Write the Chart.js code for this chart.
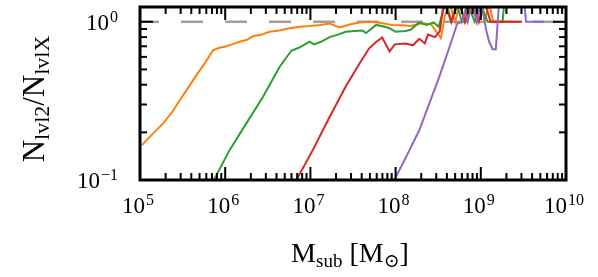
<!DOCTYPE html>
<html>
<head>
<meta charset="utf-8">
<script src="https://cdn.jsdelivr.net/npm/chart.js@4.4.0/dist/chart.umd.min.js"></script>
<style>
  html, body { margin: 0; padding: 0; background: #fff; }
  #wrap { width: 598px; height: 277px; }
</style>
</head>
<body>
<div id="wrap"><canvas id="ratioChart" width="598" height="277"></canvas></div>
<script>
  // Subhalo mass [Msun] and ratio N_lvl2 / N_lvlX for each level
  const orangeMass = [1.05e5, 1.4e5, 1.87e5, 2.4e5, 2.94e5, 3.7e5, 4.6e5, 5.8e5, 7.2e5, 8.5e5, 9.9e5, 1.2e6, 1.48e6, 1.8e6, 2.12e6, 2.7e6, 3.3e6, 4.3e6, 5.7e6, 7.5e6, 9.8e6, 1.3e7, 1.68e7, 2.2e7, 2.9e7, 3.77e7, 5e7, 6.5e7, 9.1e7, 1.2e8, 1.5e8, 2.0e8, 2.6e8, 3.4e8, 3.8e8, 4.3e8, 5e8, 5.7e8, 6.5e8, 7.5e8, 9e8, 1.1e9, 1.25e9, 1.4e9, 2.9e9];
  const orangeRatio = [0.166, 0.195, 0.228, 0.27, 0.32, 0.385, 0.46, 0.55, 0.66, 0.685, 0.695, 0.72, 0.748, 0.77, 0.81, 0.83, 0.865, 0.88, 0.91, 0.93, 0.94, 0.955, 0.975, 0.92, 0.96, 0.99, 1.0, 0.985, 0.955, 0.95, 0.94, 0.98, 0.965, 0.79, 1.1, 1.3, 1.0, 1.3, 1.0, 1.35, 1.0, 1.0, 1.3, 1.0, 1.0];

  const greenMass = [7.0e5, 1.13e6, 1.77e6, 2.78e6, 4.36e6, 5.97e6, 7.5e6, 9.8e6, 1.1e7, 1.35e7, 1.68e7, 2.1e7, 2.6e7, 3.3e7, 4.1e7, 4.5e7, 5.9e7, 7.5e7, 8.5e7, 1.0e8, 1.3e8, 1.5e8, 1.9e8, 2.3e8, 2.8e8, 3.2e8, 3.9e8, 4.5e8, 5.2e8, 6e8, 7e8, 8.5e8, 1.0e9, 1.2e9, 1.8e9, 1.88e9];
  const greenRatio = [0.095, 0.155, 0.228, 0.336, 0.52, 0.656, 0.69, 0.748, 0.72, 0.75, 0.80, 0.83, 0.865, 0.875, 0.88, 0.85, 0.955, 0.93, 0.91, 0.865, 0.875, 0.89, 0.99, 0.955, 0.99, 0.93, 1.35, 1.0, 1.3, 1.0, 1.3, 1.0, 1.3, 1.0, 1.0, 1.3];

  const redMass = [6.5e6, 1.07e7, 1.68e7, 2.6e7, 3.77e7, 4.9e7, 5.8e7, 6.95e7, 8.5e7, 9.8e7, 1.3e8, 1.6e8, 1.9e8, 2.2e8, 2.4e8, 2.9e8, 3.3e8, 3.7e8, 4.5e8, 5.5e8, 6.5e8, 8e8, 9.5e8, 1.1e9, 1.3e9, 3.05e9];
  const redRatio = [0.095, 0.155, 0.25, 0.39, 0.545, 0.68, 0.74, 0.795, 0.65, 0.72, 0.73, 0.71, 0.78, 0.73, 0.83, 0.80, 0.87, 1.35, 1.0, 1.35, 1.0, 1.35, 1.0, 1.35, 1.0, 1.0];

  const purpleMass = [9.2e7, 1.33e8, 1.9e8, 2.49e8, 3.26e8, 4.3e8, 5.3e8, 6.0e8, 6.5e8, 7e8, 8e8, 9e8, 1.0e9, 1.15e9, 1.25e9, 1.38e9, 1.5e9, 1.65e9, 3.2e9, 3.4e9, 5.5e9];
  const purpleRatio = [0.095, 0.14, 0.207, 0.305, 0.45, 0.695, 0.976, 1.0, 1.15, 1.0, 1.35, 1.0, 1.35, 0.9, 0.75, 0.67, 0.67, 1.4, 1.4, 1.0, 1.0];

  // reference line at ratio = 1
  const refMass = [1e5, 1e10];
  const refRatio = [1, 1];

  // tick labels (written as 10^exp) and minor tick multipliers
  const xTickValues = [1e5, 1e6, 1e7, 1e8, 1e9, 1e10];
  const xTickExps = ['5', '6', '7', '8', '9', '10'];
  const yTickValues = [0.1, 1];
  const yTickExps = ['\u22121', '0'];
  const minorSteps = [2, 3, 4, 5, 6, 7, 8, 9];

  const serif = "'Liberation Serif', 'DejaVu Serif', serif";

  function pts(xs, ys) {
    return xs.map((m, i) => ({ x: m, y: ys[i] }));
  }

  // draws "10" with a raised exponent
  function drawPow(g, exp, x, baseline, align) {
    g.font = '23px ' + serif;
    const wBase = g.measureText('10').width;
    g.font = '16px ' + serif;
    const wExp = g.measureText(exp).width;
    const total = wBase + 1 + wExp;
    const left = align === 'right' ? x - total : x - total / 2;
    g.font = '23px ' + serif;
    g.fillText('10', left, baseline);
    g.font = '16px ' + serif;
    g.fillText(exp, left + wBase + 1, baseline - 8);
  }

  // draws a run of [text, isSub] pieces starting at x
  function drawRuns(g, runs, x, baseline, big, small, drop) {
    let cx = x;
    runs.forEach(([t, sub]) => {
      g.font = (sub ? small : big) + 'px ' + serif;
      g.fillText(t, cx, baseline + (sub ? drop : 0));
      cx += g.measureText(t).width;
    });
  }

  function runsWidth(g, runs, big, small) {
    let w = 0;
    runs.forEach(([t, sub]) => {
      g.font = (sub ? small : big) + 'px ' + serif;
      w += g.measureText(t).width;
    });
    return w;
  }

  // tick marks pointing into the plot, on both opposite sides
  function xTick(g, a, px, len) {
    g.fillRect(px - 1, a.bottom - len, 2, len);
    g.fillRect(px - 1, a.top, 2, len);
  }
  function yTick(g, a, py, len) {
    g.fillRect(a.left, py - 1, len, 2);
    g.fillRect(a.right - len, py - 1, len, 2);
  }

  const frame = {
    id: 'frame',
    afterDraw(chart) {
      const g = chart.ctx;
      const a = chart.chartArea;
      const xs = chart.scales.x;
      const ys = chart.scales.y;
      g.save();
      g.fillStyle = '#000';

      xTickValues.forEach((v, i) => {
        xTick(g, a, xs.getPixelForValue(v), 13);
        if (i < xTickValues.length - 1) {
          minorSteps.forEach(k => xTick(g, a, xs.getPixelForValue(v * k), 7));
        }
      });
      yTickValues.forEach(v => yTick(g, a, ys.getPixelForValue(v), 13));
      minorSteps.forEach(k => yTick(g, a, ys.getPixelForValue(yTickValues[0] * k), 7));

      g.strokeStyle = '#000';
      g.lineWidth = 3;
      g.strokeRect(a.left, a.top, a.right - a.left, a.bottom - a.top);

      g.textAlign = 'left';
      g.textBaseline = 'alphabetic';

      xTickValues.forEach((v, i) => {
        drawPow(g, xTickExps[i], xs.getPixelForValue(v) - 2, a.bottom + 33, 'center');
      });
      yTickValues.forEach((v, i) => {
        drawPow(g, yTickExps[i], a.left - 22, ys.getPixelForValue(v) + 8, 'right');
      });

      // x title: M_sub [M_sun]
      const xRuns = [['M', false], ['sub', true], [' [M', false], ['\u2299', true], [']', false]];
      const xw = runsWidth(g, xRuns, 28, 19);
      drawRuns(g, xRuns, (a.left + a.right) / 2 - 3 - xw / 2, 262, 28, 19, 5);

      // y title: N_lvl2 / N_lvlX (rotated)
      const yRuns = [['N', false], ['lvl2', true], ['/', false], ['N', false], ['lvlX', true]];
      const yw = runsWidth(g, yRuns, 31, 22);
      g.translate(44, 99);
      g.rotate(-Math.PI / 2);
      drawRuns(g, yRuns, -yw / 2, 0, 31, 22, 5);
      g.restore();
    }
  };

  const canvasCtx = document.getElementById('ratioChart').getContext('2d');
  const ratioChart = new Chart(canvasCtx, {
    type: 'line',
    data: {
      datasets: [
        {
          data: pts(refMass, refRatio),
          borderColor: '#a0a0a0',
          borderWidth: 2.5,
          borderDash: [22, 22],
          borderDashOffset: 3,
          order: 5
        },
        { data: pts(orangeMass, orangeRatio), borderColor: '#ff7f0e', borderWidth: 2, order: 4 },
        { data: pts(greenMass, greenRatio), borderColor: '#2ca02c', borderWidth: 2, order: 3 },
        { data: pts(redMass, redRatio), borderColor: '#d62728', borderWidth: 2, order: 2 },
        { data: pts(purpleMass, purpleRatio), borderColor: '#9467bd', borderWidth: 2, order: 1 }
      ]
    },
    options: {
      responsive: false,
      devicePixelRatio: 1,
      animation: false,
      layout: { padding: { top: 7, right: 32, bottom: 0, left: 0 } },
      elements: {
        point: { radius: 0 },
        line: { tension: 0, fill: false }
      },
      plugins: {
        legend: { display: false },
        tooltip: { enabled: false }
      },
      scales: {
        x: {
          type: 'logarithmic',
          min: 1e5,
          max: 1e10,
          grid: { display: false },
          border: { display: false },
          ticks: { display: false },
          afterFit(scale) { scale.height = 97; }
        },
        y: {
          type: 'logarithmic',
          min: 0.1,
          max: 1.24,
          grid: { display: false },
          border: { display: false },
          ticks: { display: false },
          afterFit(scale) { scale.width = 140; }
        }
      }
    },
    plugins: [frame]
  });
</script>
</body>
</html>
